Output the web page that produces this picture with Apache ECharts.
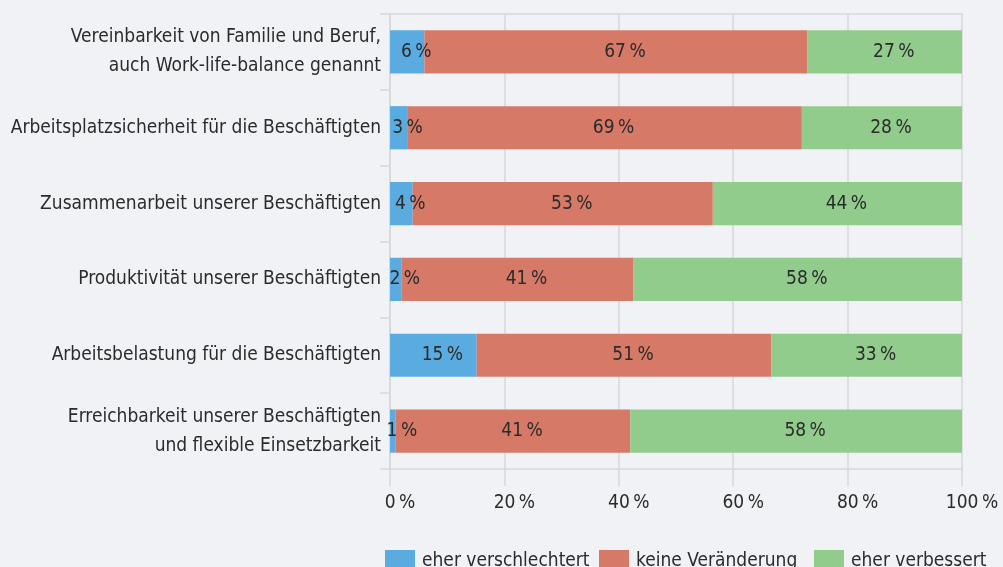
<!DOCTYPE html>
<html>
<head>
<meta charset="utf-8">
<script src="https://cdn.jsdelivr.net/npm/echarts@6/dist/echarts.min.js"></script>
<style>
    html, body { margin: 0; padding: 0; background: #f1f2f6; }
    #chart { width: 1003px; height: 567px; }
</style>
</head>
<body>
<div id="chart"></div>
<script>
// Kategorien von oben nach unten
const categories = [
    'Vereinbarkeit von Familie und Beruf,\nauch Work-life-balance genannt',
    'Arbeitsplatzsicherheit für die Beschäftigten',
    'Zusammenarbeit unserer Beschäftigten',
    'Produktivität unserer Beschäftigten',
    'Arbeitsbelastung für die Beschäftigten',
    'Erreichbarkeit unserer Beschäftigten\nund flexible Einsetzbarkeit'
]
const seriesNames = ['eher verschlechtert', 'keine Veränderung', 'eher verbessert']
const verschlechtert = [6, 3, 4, 2, 15, 1]
const keineVeraenderung = [67, 69, 53, 41, 51, 41]
const verbessert = [27, 28, 44, 58, 33, 58]
const xTicks = [0, 20, 40, 60, 80, 100]

const colors = ['#5aabdf', '#d77967', '#92cc8c']
const font = '"DejaVu Sans Condensed", sans-serif'
const fontSize = 19
const textColor = '#2b2b2b'
const gridColor = '#d6d7db'
const legendLeft = [385, 599, 814]

const raw = [verschlechtert, keineVeraenderung, verbessert]
// Zeilensummen sind 99-101, Balken werden auf 100 % normiert
const sums = categories.map((c, i) => raw.reduce((s, arr) => s + arr[i], 0))

let myChart = echarts.init(document.getElementById('chart'))
let option = {
    backgroundColor: '#f1f2f6',
    animation: false,
    textStyle: { fontFamily: font },
    // eine Legende pro Eintrag, damit die Abstände wie im Original sind
    legend: seriesNames.map((name, i) => ({
        top: 550,
        left: legendLeft[i],
        padding: 0,
        itemWidth: 30,
        itemHeight: 22,
        itemGap: 0,
        icon: 'rect',
        textStyle: { fontFamily: font, fontSize: fontSize, color: textColor, padding: [0, 0, 0, 2] },
        data: [name]
    })),
    grid: {
        left: 390,
        right: 41,
        top: 14,
        bottom: 98,
        outerBoundsMode: 'none'
    },
    xAxis: [
        {
            type: 'value',
            min: 0,
            max: 100,
            interval: 20,
            axisLine: { show: true, lineStyle: { color: gridColor, width: 1.5 } },
            axisTick: { show: true, length: 17, lineStyle: { color: gridColor, width: 1.5 } },
            splitLine: { show: true, lineStyle: { color: gridColor, width: 1.5 } },
            axisLabel: {
                margin: 25,
                padding: [0, 0, 0, 20],
                fontFamily: font,
                fontSize: fontSize,
                color: textColor,
                formatter: (v) => (xTicks.includes(v) ? v + '\u2009%' : '')
            }
        },
        {
            type: 'value',
            position: 'top',
            min: 0,
            max: 100,
            axisLine: { show: true, lineStyle: { color: gridColor, width: 1.5 } },
            axisTick: { show: false },
            axisLabel: { show: false },
            splitLine: { show: false }
        }
    ],
    yAxis: {
        type: 'category',
        inverse: true,
        data: categories,
        axisLine: { show: true, lineStyle: { color: gridColor, width: 1.5 } },
        axisTick: { show: true, length: 10, lineStyle: { color: gridColor, width: 1.5 } },
        axisLabel: {
            margin: 9,
            fontFamily: font,
            fontSize: fontSize,
            lineHeight: 29,
            color: textColor
        }
    },
    series: seriesNames.map((name, s) => ({
        name: name,
        type: 'bar',
        stack: 'total',
        barWidth: '57%',
        itemStyle: { color: colors[s] },
        label: {
            show: true,
            position: 'inside',
            offset: [9, 0],
            fontFamily: font,
            fontSize: fontSize,
            color: textColor,
            formatter: (p) => raw[s][p.dataIndex] + '\u2009%'
        },
        data: raw[s].map((v, i) => (v / sums[i]) * 100)
    }))
}

option && myChart.setOption(option)
</script>
</body>
</html>
